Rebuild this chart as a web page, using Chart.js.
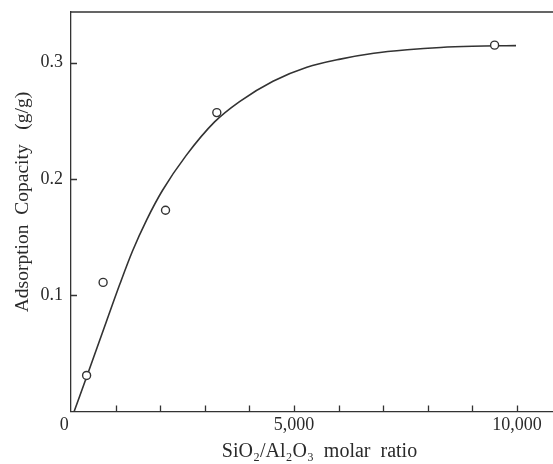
<!DOCTYPE html>
<html lang="en">
<head>
    <meta charset="UTF-8">
    <title>Adsorption Capacity vs SiO2/Al2O3</title>
    <script src="https://cdn.jsdelivr.net/npm/chart.js"></script>
    <style>
        html, body { margin: 0; padding: 0; background: #fff; }
        #wrap { width: 553px; height: 464px; position: relative; }
    </style>
</head>
<body>
    <div id="wrap"><canvas id="adsChart"></canvas></div>
    <script>
    // measured samples
    const pointRatio = [350, 720, 2120, 3270, 9500];
    const pointCapacity = [0.031, 0.111, 0.173, 0.257, 0.315];

    // fitted curve, traced along its length
    const curveRatio = [70, 400, 800, 1100, 1380, 1700, 2050, 2580, 3220, 3780, 4530, 5290, 6040, 6790, 7540, 8290, 9000, 9980];
    const curveCapacity = [0, 0.035, 0.078, 0.110, 0.138, 0.165, 0.190, 0.220, 0.249, 0.2665, 0.284, 0.296, 0.303, 0.308, 0.311, 0.313, 0.314, 0.3146];

    // axis ticks
    const xTickValues = [0, 5000, 10000];
    const xTickLabels = ['0', '5,000', '10,000'];
    const xMarkValues = [1000, 2000, 3000, 4000, 5000, 6000, 7000, 8000, 9000, 10000];
    const yTickValues = [0.1, 0.2, 0.3];
    const yTickLabels = ['0.1', '0.2', '0.3'];

    const ink = '#333';
    Chart.defaults.font.family = '"Liberation Serif", "Times New Roman", serif';
    Chart.defaults.font.size = 18;
    Chart.defaults.color = '#2a2a2a';

    // top frame line + short inward tick marks
    const frame = {
        id: 'frame',
        afterDatasetsDraw(chart) {
            const { ctx, chartArea: a, scales } = chart;
            ctx.save();
            ctx.strokeStyle = ink;
            ctx.lineWidth = 1.3;
            ctx.beginPath();
            ctx.moveTo(a.left, a.top);
            ctx.lineTo(a.right, a.top);
            xMarkValues.forEach(v => {
                const px = Math.round(scales.x.getPixelForValue(v)) + 0.5;
                ctx.moveTo(px, a.bottom);
                ctx.lineTo(px, a.bottom - 6);
            });
            yTickValues.forEach(v => {
                const py = Math.round(scales.y.getPixelForValue(v)) + 0.5;
                ctx.moveTo(a.left, py);
                ctx.lineTo(a.left + 6, py);
            });
            ctx.stroke();
            ctx.restore();
        }
    };

    const ctxAds = document.getElementById('adsChart').getContext('2d');
    window.adsChart = new Chart(ctxAds, {
        type: 'scatter',
        data: {
            datasets: [
                {
                    type: 'line',
                    data: curveRatio.map((x, i) => ({ x: x, y: curveCapacity[i] })),
                    borderColor: ink,
                    borderWidth: 1.6,
                    pointRadius: 0,
                    cubicInterpolationMode: 'monotone',
                    fill: false,
                    order: 2
                },
                {
                    data: pointRatio.map((x, i) => ({ x: x, y: pointCapacity[i] })),
                    pointRadius: 4,
                    pointBorderWidth: 1.4,
                    pointBorderColor: ink,
                    pointBackgroundColor: '#fff',
                    order: 1
                }
            ]
        },
        options: {
            responsive: true,
            maintainAspectRatio: false,
            animation: false,
            layout: { autoPadding: false, padding: { top: 12, right: 0, left: 0, bottom: 0 } },
            plugins: { legend: { display: false }, tooltip: { enabled: false } },
            scales: {
                x: {
                    type: 'linear',
                    min: 0,
                    max: 10810,
                    afterBuildTicks: s => { s.ticks = xTickValues.map(v => ({ value: v })); },
                    afterFit: s => {
                        s.height = 52.5;
                        s.paddingLeft = 0;
                        s.paddingRight = 0;
                    },
                    grid: { display: false, drawTicks: false },
                    border: { display: true, color: ink, width: 1.3 },
                    ticks: {
                        autoSkip: false,
                        maxRotation: 0,
                        padding: 3,
                        callback: (v, i) => i === 0 ? xTickLabels[i] + '   ' : xTickLabels[i]
                    },
                    title: {
                        display: true,
                        text: '   SiO₂/Al₂O₃  molar  ratio',
                        font: { size: 20 },
                        padding: { top: 0, bottom: 0 }
                    }
                },
                y: {
                    type: 'linear',
                    min: 0,
                    max: 0.3435,
                    afterBuildTicks: s => { s.ticks = yTickValues.map(v => ({ value: v })); },
                    afterFit: s => {
                        s.width = 71;
                        s.paddingTop = 0;
                        s.paddingBottom = 0;
                    },
                    grid: { display: false, drawTicks: false },
                    border: { display: true, color: ink, width: 1.3 },
                    ticks: {
                        padding: 8,
                        callback: (v, i) => yTickLabels[i]
                    },
                    title: {
                        display: true,
                        text: '    Adsorption  Copacity   (g/g)',
                        font: { size: 19.5 },
                        padding: { top: 11, bottom: 0 }
                    }
                }
            }
        },
        plugins: [frame]
    });
    </script>
</body>
</html>
